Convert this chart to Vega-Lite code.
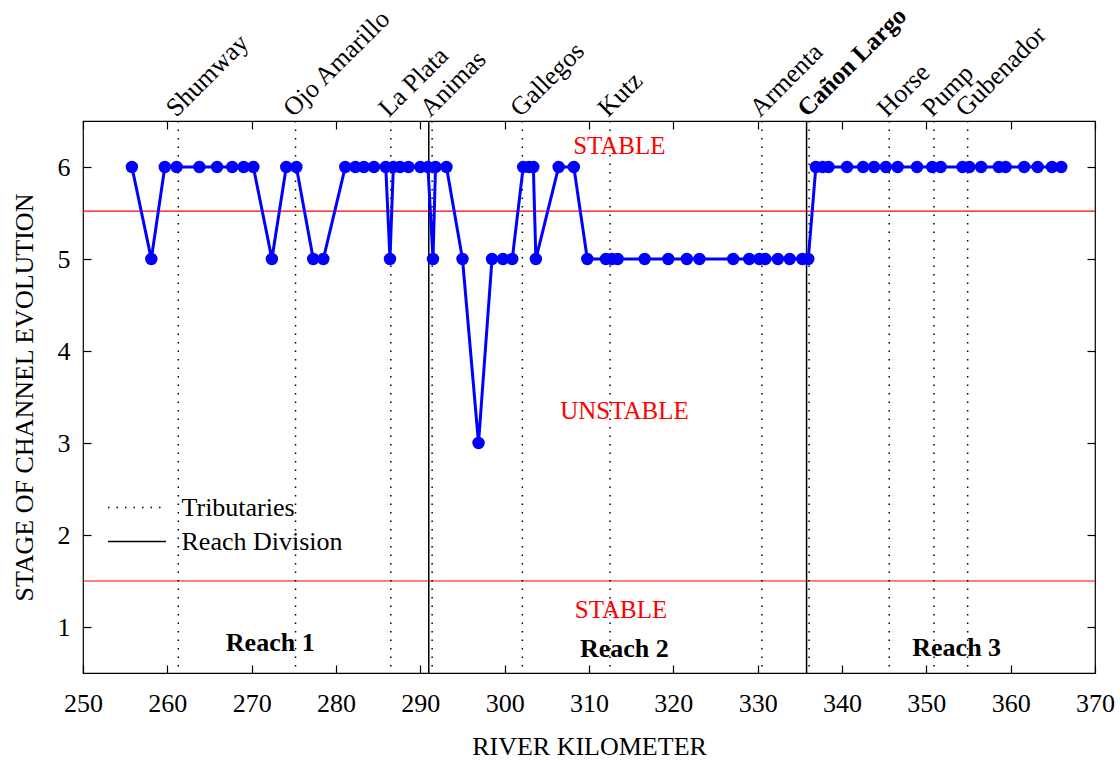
{
  "$schema": "https://vega.github.io/schema/vega-lite/v6.json",
  "width": 1012,
  "height": 552,
  "autosize": "none",
  "padding": {"left": 83, "top": 121, "right": 25, "bottom": 88},
  "config": {
    "font": "Liberation Serif",
    "view": {"stroke": "#000", "strokeWidth": 1.2},
    "axis": {
      "grid": false, "domain": false,
      "labelFont": "Liberation Serif", "titleFont": "Liberation Serif",
      "labelColor": "#000", "titleColor": "#000", "tickColor": "#000",
      "labelFontSize": 26, "titleFontSize": 26, "titleFontWeight": "normal",
      "tickSize": -8, "tickWidth": 1.2, "labelFlush": false, "labelOverlap": false
    }
  },
  "datasets": {
    "points": [
      {"km": 255.8, "stage": 6}, {"km": 258.1, "stage": 5}, {"km": 259.7, "stage": 6}, {"km": 261.1, "stage": 6},
      {"km": 263.8, "stage": 6}, {"km": 265.9, "stage": 6}, {"km": 267.7, "stage": 6}, {"km": 269.05, "stage": 6},
      {"km": 270.2, "stage": 6}, {"km": 272.4, "stage": 5}, {"km": 274.1, "stage": 6}, {"km": 275.3, "stage": 6},
      {"km": 277.3, "stage": 5}, {"km": 278.5, "stage": 5}, {"km": 281.1, "stage": 6}, {"km": 282.3, "stage": 6},
      {"km": 283.3, "stage": 6}, {"km": 284.5, "stage": 6}, {"km": 285.9, "stage": 6}, {"km": 286.4, "stage": 5},
      {"km": 286.8, "stage": 6}, {"km": 287.6, "stage": 6}, {"km": 288.6, "stage": 6}, {"km": 290.0, "stage": 6},
      {"km": 290.9, "stage": 6}, {"km": 291.5, "stage": 5}, {"km": 291.8, "stage": 6}, {"km": 293.1, "stage": 6},
      {"km": 295.0, "stage": 5}, {"km": 296.9, "stage": 3}, {"km": 298.5, "stage": 5}, {"km": 299.8, "stage": 5},
      {"km": 300.9, "stage": 5}, {"km": 302.2, "stage": 6}, {"km": 302.9, "stage": 6}, {"km": 303.4, "stage": 6},
      {"km": 303.7, "stage": 5}, {"km": 306.4, "stage": 6}, {"km": 308.2, "stage": 6}, {"km": 309.8, "stage": 5},
      {"km": 312.0, "stage": 5}, {"km": 312.7, "stage": 5}, {"km": 313.4, "stage": 5}, {"km": 316.6, "stage": 5},
      {"km": 319.4, "stage": 5}, {"km": 321.6, "stage": 5}, {"km": 323.1, "stage": 5}, {"km": 327.1, "stage": 5},
      {"km": 329.0, "stage": 5}, {"km": 330.2, "stage": 5}, {"km": 330.9, "stage": 5}, {"km": 332.4, "stage": 5},
      {"km": 333.8, "stage": 5}, {"km": 335.3, "stage": 5}, {"km": 336.0, "stage": 5}, {"km": 336.9, "stage": 6},
      {"km": 337.7, "stage": 6}, {"km": 338.4, "stage": 6}, {"km": 340.6, "stage": 6}, {"km": 342.5, "stage": 6},
      {"km": 343.8, "stage": 6}, {"km": 345.2, "stage": 6}, {"km": 346.6, "stage": 6}, {"km": 348.9, "stage": 6},
      {"km": 350.7, "stage": 6}, {"km": 351.7, "stage": 6}, {"km": 354.3, "stage": 6}, {"km": 355.1, "stage": 6},
      {"km": 356.5, "stage": 6}, {"km": 358.6, "stage": 6}, {"km": 359.4, "stage": 6}, {"km": 361.6, "stage": 6},
      {"km": 363.2, "stage": 6}, {"km": 364.9, "stage": 6}, {"km": 366.0, "stage": 6}
    ],
    "lines": [
      {"name": "Shumway", "km": 261.3, "kind": "Tributaries", "bold": false},
      {"name": "Ojo Amarillo", "km": 275.2, "kind": "Tributaries", "bold": false},
      {"name": "La Plata", "km": 286.5, "kind": "Tributaries", "bold": false},
      {"name": "Animas", "km": 291.4, "kind": "Tributaries", "bold": false},
      {"name": "Gallegos", "km": 302.1, "kind": "Tributaries", "bold": false},
      {"name": "Kutz", "km": 312.5, "kind": "Tributaries", "bold": false},
      {"name": "Armenta", "km": 330.5, "kind": "Tributaries", "bold": false},
      {"name": "Cañon Largo", "km": 336.1, "kind": "Tributaries", "bold": true},
      {"name": "Horse", "km": 345.6, "kind": "Tributaries", "bold": false},
      {"name": "Pump", "km": 350.9, "kind": "Tributaries", "bold": false},
      {"name": "Gubenador", "km": 354.9, "kind": "Tributaries", "bold": false},
      {"name": "", "km": 291.0, "kind": "Reach Division", "bold": false},
      {"name": "", "km": 335.8, "kind": "Reach Division", "bold": false}
    ],
    "bounds": [{"stage": 5.52}, {"stage": 1.5}],
    "regions": [
      {"label": "STABLE", "km": 313.6, "stage": 6.14},
      {"label": "UNSTABLE", "km": 314.2, "stage": 3.265},
      {"label": "STABLE", "km": 313.8, "stage": 1.095}
    ],
    "reaches": [
      {"label": "Reach 1", "km": 272.2, "stage": 0.74},
      {"label": "Reach 2", "km": 314.2, "stage": 0.67},
      {"label": "Reach 3", "km": 353.6, "stage": 0.69}
    ]
  },
  "resolve": {"axis": {"x": "independent", "y": "independent"}},
  "layer": [
    {
      "data": {"name": "bounds"},
      "mark": {"type": "rule", "color": "#ff0000", "strokeWidth": 1.2},
      "encoding": {
        "y": {"field": "stage", "type": "quantitative", "scale": {"domain": [0.5, 6.5], "nice": false, "zero": false}, "axis": null}
      }
    },
    {
      "data": {"name": "lines"},
      "mark": {"type": "rule", "color": "#000", "strokeWidth": 1.5},
      "encoding": {
        "x": {"field": "km", "type": "quantitative", "scale": {"domain": [250, 370], "nice": false, "zero": false}, "axis": null},
        "strokeDash": {
          "field": "kind", "type": "nominal",
          "scale": {"domain": ["Tributaries", "Reach Division"], "range": [[1.5, 7], [1, 0]]},
          "legend": {
            "orient": "none", "legendX": 38.5, "legendY": 371, "title": null, "padding": 0,
            "symbolType": "M-2,0H2", "symbolSize": 841, "symbolStrokeWidth": 1.5, "symbolStrokeColor": "#000",
            "labelFont": "Liberation Serif", "labelFontSize": 26, "labelColor": "#000", "labelOffset": 29,
            "rowPadding": 5, "labelLimit": 400
          }
        }
      }
    },
    {
      "data": {"name": "points"},
      "mark": {"type": "line", "color": "#0000ff", "strokeWidth": 3},
      "encoding": {
        "x": {"field": "km", "type": "quantitative", "scale": {"domain": [250, 370], "nice": false, "zero": false},
          "axis": {"values": [250, 260, 270, 280, 290, 300, 310, 320, 330, 340, 350, 360, 370], "title": "RIVER KILOMETER",
            "labelPadding": 25, "titleY": 81, "titleBaseline": "alphabetic"}},
        "y": {"field": "stage", "type": "quantitative", "scale": {"domain": [0.5, 6.5], "nice": false, "zero": false},
          "axis": {"values": [1, 2, 3, 4, 5, 6], "title": "STAGE OF CHANNEL EVOLUTION", "labelPadding": 21,
            "titleX": -51, "titleBaseline": "alphabetic"}}
      }
    },
    {
      "data": {"name": "points"},
      "mark": {"type": "circle", "color": "#0000ff", "opacity": 1, "size": 154},
      "encoding": {
        "x": {"field": "km", "type": "quantitative", "axis": null},
        "y": {"field": "stage", "type": "quantitative", "axis": null}
      }
    },
    {
      "data": {"name": "regions"},
      "mark": {"type": "text", "color": "#ff0000", "fontSize": 25, "align": "center", "baseline": "alphabetic"},
      "encoding": {
        "x": {"field": "km", "type": "quantitative",
          "axis": {"orient": "top", "values": [250, 260, 270, 280, 290, 300, 310, 320, 330, 340, 350, 360, 370], "labels": false, "title": null}},
        "y": {"field": "stage", "type": "quantitative",
          "axis": {"orient": "right", "values": [1, 2, 3, 4, 5, 6], "labels": false, "title": null}},
        "text": {"field": "label"}
      }
    },
    {
      "data": {"name": "reaches"},
      "mark": {"type": "text", "color": "#000", "fontSize": 26, "fontWeight": "bold", "align": "center", "baseline": "alphabetic"},
      "encoding": {
        "x": {"field": "km", "type": "quantitative", "axis": null},
        "y": {"field": "stage", "type": "quantitative", "axis": null},
        "text": {"field": "label"}
      }
    },
    {
      "data": {"name": "lines"},
      "transform": [{"filter": "datum.kind == 'Tributaries' && !datum.bold"}],
      "mark": {"type": "text", "color": "#000", "fontSize": 26, "angle": 315, "align": "left", "baseline": "alphabetic", "dx": 0.7, "dy": -3.5},
      "encoding": {
        "x": {"field": "km", "type": "quantitative", "axis": null},
        "y": {"datum": 6.5, "type": "quantitative", "axis": null},
        "text": {"field": "name"}
      }
    },
    {
      "data": {"name": "lines"},
      "transform": [{"filter": "datum.bold"}],
      "mark": {"type": "text", "color": "#000", "fontSize": 25, "fontWeight": "bold", "angle": 315, "align": "left", "baseline": "alphabetic", "dx": 0.7, "dy": -3.5},
      "encoding": {
        "x": {"field": "km", "type": "quantitative", "axis": null},
        "y": {"datum": 6.5, "type": "quantitative", "axis": null},
        "text": {"field": "name"}
      }
    }
  ]
}
